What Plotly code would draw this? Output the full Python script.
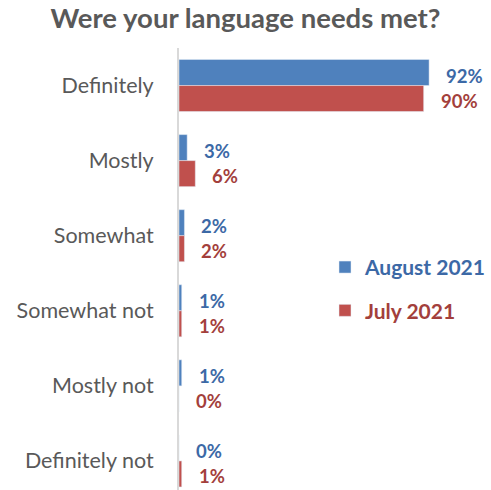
import plotly.graph_objects as go

categories = ["Definitely", "Mostly", "Somewhat", "Somewhat not", "Mostly not", "Definitely not"]
august_2021 = [92, 3, 2, 1, 1, 0]
july_2021 = [90, 6, 2, 1, 0, 1]

BLUE = "#4F81BD"
RED = "#C0504D"
BLUE_TXT = "#3C69A6"
RED_TXT = "#A33F3C"
FONT = "Lato"

fig = go.Figure()
fig.add_trace(go.Bar(
    y=categories, x=august_2021, orientation="h", marker_color=BLUE,
    name=f"<span style='color:{BLUE_TXT}'>August 2021</span>", legendgroup="a",
))
fig.add_trace(go.Bar(
    y=categories, x=july_2021, orientation="h", marker_color=RED,
    name=f"<span style='color:{RED_TXT}'>July 2021</span>", legendgroup="b",
))

# value labels to the right of each bar
annotations = []
for cat, a, j in zip(categories, august_2021, july_2021):
    for val, col, dy in ((a, BLUE_TXT, 10), (j, RED_TXT, -15)):
        annotations.append(dict(
            x=val, y=cat, xref="x", yref="y", text=f"{val}%",
            showarrow=False, xanchor="left", yanchor="middle",
            xshift=15, yshift=dy,
            font=dict(family=FONT, size=18.5, color=col, weight="bold"),
        ))

fig.update_layout(
    width=491, height=490,
    margin=dict(l=179, r=0, t=48, b=0),
    paper_bgcolor="white", plot_bgcolor="white",
    barmode="group", bargap=0.307, bargroupgap=0,
    title=dict(
        text="Were your language needs met?", x=0.5, xanchor="center",
        y=0.963, yanchor="middle",
        font=dict(family=FONT, size=27.5, color="#595959", weight="bold"),
    ),
    xaxis=dict(range=[0, 114.4], visible=False),
    yaxis=dict(
        categoryorder="array", categoryarray=categories,
        showline=True, linecolor="#D9D9D9", linewidth=2,
        showgrid=False, ticks="", ticklabelstandoff=19,
        tickfont=dict(family=FONT, size=21.5, color="#595959"),
    ),
    legend=dict(
        x=0.47, y=0.55, xanchor="left", yanchor="top",
        font=dict(family=FONT, size=21, weight="bold"),
        tracegroupgap=13, itemwidth=30, bgcolor="rgba(0,0,0,0)",
    ),
    annotations=annotations,
    showlegend=True,
)
fig.update_yaxes(autorange=False, range=[5.387, -0.5])

fig.write_html("out.html")
